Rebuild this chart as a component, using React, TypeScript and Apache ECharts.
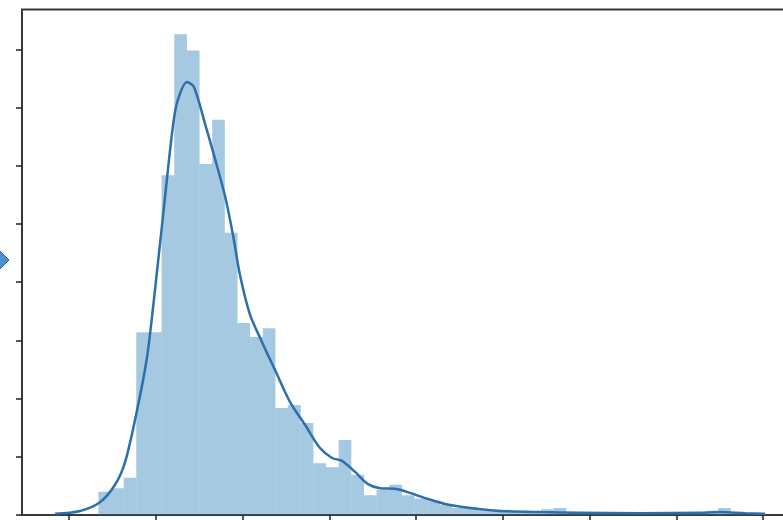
import React, { useEffect, useRef } from "react";
import * as echarts from "echarts";

// Histogram bins (x in axis units, tick spacing = 10)
const binStart = 3.38;
const binWidth = 1.458;
const binHeights = [
  0.4, 0.46, 0.64, 3.14, 3.14, 5.84, 8.26, 7.98, 6.03, 6.79,
  4.85, 3.3, 3.06, 3.21, 1.84, 1.89, 1.58, 0.89, 0.82, 1.29,
  0.69, 0.34, 0.43, 0.52, 0.34, 0.28, 0.25, 0.17, 0.12, 0.14,
  0.08, 0.06, 0.06, 0.05, 0.05, 0.1, 0.12, 0.05, 0.05, 0.03,
  0.04, 0.03, 0.02, 0.03, 0.02, 0.02, 0.03, 0.03, 0.07, 0.12,
  0.05,
];

// KDE curve
const kdeX = [
  -1.61, 1.27, 3.57, 5.3, 6.46, 7.84, 8.99, 9.91, 10.84, 11.99,
  12.56, 13.6, 14.41, 15.68, 16.83, 17.98, 18.9, 19.71, 20.87, 22.25,
  23.75, 25.48, 27.2, 28.93, 30.32, 31.47, 32.97, 34.47, 35.85, 37.58,
  39.31, 41.04, 43.34, 46.22, 49.68, 54.29, 58.9, 65.82, 72.74, 75.04,
  77.93, 80.23,
];
const kdeY = [
  0.02, 0.07, 0.22, 0.52, 0.91, 1.8, 2.71, 3.87, 5.15, 6.7,
  7.14, 7.44, 7.35, 6.72, 6.12, 5.48, 4.81, 4.12, 3.44, 2.97,
  2.49, 1.94, 1.55, 1.15, 0.98, 0.93, 0.74, 0.53, 0.46, 0.45,
  0.38, 0.29, 0.19, 0.12, 0.07, 0.05, 0.04, 0.03, 0.04, 0.05,
  0.03, 0.02,
];

const xTicks = [0, 10, 20, 30, 40, 50, 60, 70, 80];
const yTicks = [0, 1, 2, 3, 4, 5, 6, 7, 8];

export default function App() {
  const ref = useRef<HTMLDivElement>(null);
  useEffect(() => {
    if (!ref.current) return;
    const chart = echarts.init(ref.current, null, { renderer: "svg" });
    const bars = binHeights.map((h, i) => [
      binStart + i * binWidth,
      binStart + (i + 1) * binWidth,
      h,
    ]);
    const kde = kdeX.map((x, i) => [x, kdeY[i]]);
    chart.setOption({
      animation: false,
      backgroundColor: "#ffffff",
      grid: {
        left: 22,
        top: 9.5,
        right: 0,
        bottom: 5,
        show: true,
        borderColor: "#3a3a3a",
        borderWidth: 2,
        backgroundColor: "transparent",
      },
      xAxis: {
        type: "value",
        min: -5.42,
        max: 84.6,
        axisLine: { show: false, onZero: false },
        splitLine: { show: false },
        axisLabel: { show: false },
        axisTick: {
          show: true,
          length: 6,
          customValues: xTicks,
          lineStyle: { color: "#222", width: 1.5 },
        },
      },
      yAxis: {
        type: "value",
        min: 0,
        max: 8.686,
        axisLine: { show: false, onZero: false },
        splitLine: { show: false },
        axisLabel: { show: false },
        axisTick: {
          show: true,
          length: 6,
          customValues: yTicks,
          lineStyle: { color: "#222", width: 1.5 },
        },
      },
      series: [
        {
          type: "custom",
          data: bars,
          encode: { x: [0, 1], y: 2 },
          renderItem: (params: any, api: any) => {
            const p0 = api.coord([api.value(0), api.value(2)]);
            const p1 = api.coord([api.value(1), 0]);
            return {
              type: "rect",
              shape: {
                x: p0[0],
                y: p0[1],
                width: p1[0] - p0[0],
                height: p1[1] - p0[1],
              },
              style: { fill: "rgba(31,119,180,0.4)" },
            };
          },
          z: 1,
        },
        {
          type: "line",
          data: kde,
          smooth: 0.3,
          showSymbol: false,
          lineStyle: { color: "#2c6fab", width: 2.5 },
          z: 3,
        },
      ],
      graphic: [
        {
          type: "polygon",
          shape: {
            points: [
              [-19, 260],
              [-5, 246],
              [9, 260],
              [-5, 274],
            ],
          },
          style: { fill: "#4a8fd4", stroke: "#35679c", lineWidth: 1 },
          z: 10,
        },
      ],
    });
    return () => chart.dispose();
  }, []);
  return (
    <div
      style={{
        position: "absolute",
        left: 0,
        top: 0,
        width: 783,
        height: 520,
        overflow: "hidden",
      }}
    >
      <div ref={ref} style={{ width: 803, height: 520 }} />
    </div>
  );
}
